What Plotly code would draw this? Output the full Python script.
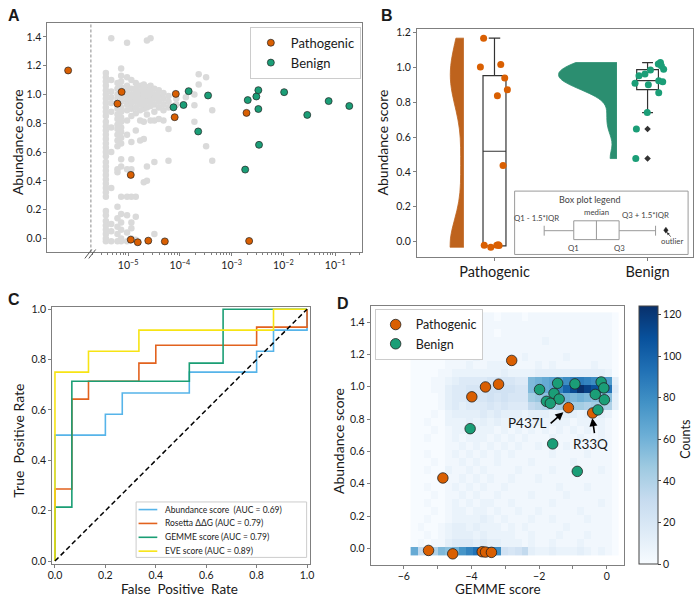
import plotly.graph_objects as go

W, H = 700, 598
FONT = "Lato, 'DejaVu Sans', sans-serif"
TXT = "#1a1a1a"
FRAME = "#7f7f7f"
ORANGE, GREEN = "#d95f02", "#1b9e77"
ORANGE_V, GREEN_V = "#be631d", "#2b8e70"

# ---------------- Panel A data ----------------
PATH_A_X = [6.9e-7, 7.46e-6, 6.2e-6, 8.3e-5, 7.9e-5, 1.93e-3, 1.12e-5, 1.12e-5, 1.53e-5, 2.44e-5, 5.1e-5, 2.17e-3]
PATH_A_Y = [1.167, 1.018, 0.936, 1.004, 0.842, 0.872, 0.441, -0.009, -0.027, -0.016, -0.021, -0.018]
BEN_A_X = [1.47e-4, 3.49e-4, 7.5e-5, 1.17e-4, 2.25e-4, 1.82e-3, 2.04e-3, 2.99e-3, 3.27e-3, 3.27e-3,
           3.37e-3, 1.03e-2, 2.88e-2, 7.46e-2, 0.187]
BEN_A_Y = [1.023, 0.993, 0.911, 0.927, 0.743, 0.478, 0.961, 0.986, 1.03, 0.899, 0.65, 1.016, 0.858, 0.954, 0.92]
BREAK_X = 1.9e-6
BG_COL_X = [3.7e-6, 4.7e-6, 6.2e-6, 7.3e-6, 9.5e-6, 1.15e-5, 1.4e-5, 1.7e-5, 2.0e-5, 2.3e-5, 2.7e-5,
            3.2e-5, 3.9e-5, 4.8e-5, 6.0e-5, 8.5e-5, 1.3e-4, 1.9e-4, 2.3e-4, 3.2e-4, 4.2e-4]
BG_COL_Y = [
    [1.15, 1.12, 1.09, 1.06, 1.03, 1.0, 0.97, 0.94, 0.91, 0.88, 0.85, 0.81, 0.78, 0.75, 0.72, 0.69, 0.66,
     0.63, 0.6, 0.57, 0.53, 0.5, 0.47, 0.44, 0.41, 0.38, 0.35, 0.32, 0.29, 0.19, 0.16, 0.12, 0.09, 0.06,
     0.03, 0.0, -0.02],
    [1.39, 1.1, 1.02, 0.98, 0.94, 0.88, 0.77, 0.6, 0.35, 0.1, 0.05, -0.02],
    [1.08, 1.04, 1.0, 0.97, 0.9, 0.86, 0.83, 0.79, 0.76, 0.72, 0.68, 0.64, 0.48, 0.46, 0.22, 0.14, 0.08,
     0.03, -0.02],
    [1.18, 1.13, 1.09, 1.05, 0.98, 0.95, 0.91, 0.88, 0.84, 0.81, 0.77, 0.74, 0.7, 0.66, 0.55, 0.5, 0.29,
     0.17, 0.11, 0.06, 0.0, -0.02],
    [1.36, 1.12, 1.06, 1.03, 0.99, 0.96, 0.93, 0.89, 0.82, 0.72, 0.48, 0.29, 0.16, 0.04, -0.02],
    [1.1, 1.04, 1.0, 0.97, 0.94, 0.9, 0.85, 0.67, 0.55, 0.48, 0.29, 0.11, 0.07, 0.0],
    [1.08, 1.04, 1.01, 0.98, 0.95, 0.91, 0.87, 0.75, 0.29, 0.15, -0.01],
    [1.06, 1.02, 0.99, 0.96, 0.93, 0.89, 0.82, 0.68],
    [1.07, 1.03, 1.0, 0.97, 0.94, 0.9, 0.81, 0.69, 0.39],
    [1.375, 1.05, 1.01, 0.98, 0.95, 0.91, 0.86, 0.5, 0.4],
    [1.39, 1.06, 1.02, 0.99, 0.96, 0.92, 0.82],
    [1.04, 1.0, 0.97, 0.93, 0.88, 0.82, 0.53, 0.03],
    [1.03, 0.99, 0.95, 0.91, 0.83],
    [1.01, 0.97, 0.93, 0.89, 0.82],
    [0.99, 0.95, 0.91, 0.76, 0.54],
    [0.97, 0.93],
    [0.98],
    [1.0, 0.925, 0.81],
    [1.14, 1.07],
    [1.12, 0.64],
    [0.89, 0.54],
]
A_TICKS = [1e-5, 1e-4, 1e-3, 1e-2, 1e-1]
A_TICKTEXT = ["10<sup>−5</sup>", "10<sup>−4</sup>", "10<sup>−3</sup>", "10<sup>−2</sup>", "10<sup>−1</sup>"]

# ---------------- Panel B data ----------------
CATS = ["Pathogenic", "Benign"]
PATH_B = [1.168, 1.003, 1.017, 0.939, 0.872, 0.838, 0.437, -0.021, -0.032, -0.02, -0.018, -0.022]
PATH_B_JIT = [-0.071, -0.092, 0.041, 0.067, 0.084, 0.019, 0.056, -0.067, -0.024, 0.015, 0.025, 0.03]
BEN_B = [1.028, 1.020, 1.009, 0.990, 0.985, 0.962, 0.952, 0.909, 0.900, 0.924, 0.918, 0.855, 0.741, 0.647, 0.477]
BEN_B_JIT = [0.084, 0.07, 0.09, 0.105, 0.019, -0.017, -0.056, -0.082, 0.005, 0.073, 0.099, 0.073, -0.002, -0.073, -0.077]
BOX_Q1 = [-0.024, 0.873]
BOX_MED = [0.519, 0.924]
BOX_Q3 = [0.953, 0.987]
BOX_LO = [-0.032, 0.741]
BOX_HI = [1.168, 1.028]
BEN_OUTLIERS = [0.647, 0.477]

# ---------------- Panel C data ----------------
ROC_NAMES = ["Abundance score\u00a0 (AUC = 0.69)", "Rosetta ΔΔG (AUC = 0.79)",
             "GEMME score (AUC = 0.79)", "EVE score (AUC = 0.89)"]
ROC_COLORS = ["#56b4e9", "#e2621e", "#1a9e74", "#f7e414"]
FPR_ABUND = [0, 0, 0.2, 0.2, 0.267, 0.267, 0.533, 0.533, 0.8, 0.8, 0.867, 0.867, 1, 1]
TPR_ABUND = [0, 0.5, 0.5, 0.583, 0.583, 0.667, 0.667, 0.75, 0.75, 0.833, 0.833, 0.917, 0.917, 1]
FPR_ROSETTA = [0, 0, 0.067, 0.067, 0.133, 0.133, 0.333, 0.333, 0.4, 0.4, 0.8, 0.8, 1, 1]
TPR_ROSETTA = [0, 0.286, 0.286, 0.643, 0.643, 0.714, 0.714, 0.786, 0.786, 0.857, 0.857, 0.929, 0.929, 1]
FPR_GEMME = [0, 0, 0.067, 0.067, 0.533, 0.533, 0.667, 0.667, 1]
TPR_GEMME = [0, 0.214, 0.214, 0.714, 0.714, 0.786, 0.786, 1, 1]
FPR_EVE = [0, 0, 0.133, 0.133, 0.333, 0.333, 0.867, 0.867, 1]
TPR_EVE = [0, 0.75, 0.75, 0.833, 0.833, 0.917, 0.917, 1, 1]

# ---------------- Panel D data ----------------
PATH_D_X = [-3.587, -3.99, -3.2, -4.846, -5.27, -4.555, -3.683, -3.587, -3.41, -2.811, -1.134, -0.418]
PATH_D_Y = [0.999, 0.938, 1.016, 0.436, -0.012, -0.033, -0.02, -0.022, -0.024, 1.163, 0.871, 0.838]
BEN_D_X = [-1.988, -1.453, -1.561, -1.407, -1.785, -1.669, -0.942, -0.166, -0.087, -0.34, -0.07, -0.262,
           -4.04, -1.6, -0.872]
BEN_D_Y = [0.983, 1.022, 0.959, 0.924, 0.91, 0.898, 1.018, 1.03, 0.993, 0.953, 0.92, 0.857, 0.741, 0.647, 0.477]
LABELS_D = {"P437L": 10, "R33Q": 11}   # index into pathogenic arrays
# 2D histogram counts; each char = level, count = 4 * index in LEVELS. rows bottom->top
LEVELS = "0123456789ABCDEFGHIJKLMNOPQRSTUV"
HX0, HDX, HY0, HDY = -5.8, 0.205, -0.04, 0.05
HM_ROWS = [
    "G89AE DFJLN MNK65 68322 32223 21210",
    "01011 34443 43322 21211 21112 11110",
    "00101 23332 32222 11211 12111 21110",
    "01001 23323 22212 12111 11211 11110",
    "00100 12222 32121 11211 21111 21110",
    "00010 12212 21211 21121 11112 11110",
    "00100 12121 22112 11111 21111 11210",
    "00010 11212 11211 11211 11211 11110",
    "00100 12121 21121 11111 12111 21110",
    "00000 11212 12112 11121 11111 11110",
    "00100 21121 21111 21111 21111 11210",
    "00010 11212 11211 11211 11121 11110",
    "00100 12121 21212 11111 21111 21110",
    "00000 11212 12121 21121 11211 11110",
    "00100 12122 21212 12111 21112 11210",
    "00010 12212 22121 21212 12121 21210",
    "00100 22232 32322 21222 22212 22210",
    "00010 23333 43433 32333 23332 33320",
    "00001 34344 45454 4489A ABBBB ABBA3",
    "00001 34455 56565 55BCD DEFEF EDED3",
    "00011 34455 56666 55EFG HLPSV TRQN4",
    "00011 23444 45555 44EFG HIKLM LKJI3",
    "00001 12222 22232 22233 33333 33320",
    "00000 11121 12221 11121 21111 12110",
    "00000 11112 11111 12111 11211 11110",
    "00000 11111 11111 11111 11111 11110",
    "00000 01111 11111 11112 11111 11110",
    "00000 00101 11011 11111 11111 11110",
    "00000 01011 11111 11111 11111 11110",
    "00000 01010 11011 10111 11111 11110",
]
D_TICKS = [-6, -5, -4, -3, -2, -1, 0]
D_TICKTEXT = ["−6", "", "−4", "", "−2", "", "0"]
CB_TICKS = [0, 20, 40, 60, 80, 100, 120]
BLUES = [[0, "#f7fbff"], [0.125, "#deebf7"], [0.25, "#c6dbef"], [0.375, "#9ecae1"], [0.5, "#6baed6"],
         [0.625, "#4292c6"], [0.75, "#2171b5"], [0.875, "#08519c"], [1, "#08306b"]]


def fx(p):
    return p / W


def fy(p):
    return 1 - p / H


DOM = {"A": ([43, 362], [19, 251]), "B": ([418, 698], [25, 256]),
       "C": ([48, 309], [306, 566]), "D": ([371, 628], [305, 567])}


def xdom(k):
    a, b = DOM[k][0]
    return [fx(a), fx(b)]


def ydom(k):
    a, b = DOM[k][1]
    return [fy(b), fy(a)]


def ax_style(**kw):
    d = dict(showline=True, linecolor=FRAME, linewidth=1, mirror=True, ticks="outside", ticklen=3,
             tickwidth=1, tickcolor=FRAME, showgrid=False, zeroline=False,
             tickfont=dict(size=10.5, color=TXT, family=FONT))
    d.update(kw)
    return d


fig = go.Figure()

# ---------- A ----------
bg_x, bg_y = [], []
for xv, ys in zip(BG_COL_X, BG_COL_Y):
    for yv in ys:
        bg_x.append(xv)
        bg_y.append(yv)
A_YR = [-0.098, 1.498]
fig.add_trace(go.Scatter(x=bg_x, y=bg_y, mode="markers", marker=dict(size=6.5, color="#dadada"),
                         showlegend=False, hoverinfo="skip", xaxis="x", yaxis="y"))
fig.add_trace(go.Scatter(x=[BREAK_X, BREAK_X], y=A_YR, mode="lines",
                         line=dict(color="#8a8a8a", width=1, dash="3px,2px"),
                         showlegend=False, hoverinfo="skip", xaxis="x", yaxis="y"))
fig.add_trace(go.Scatter(x=PATH_A_X, y=PATH_A_Y, mode="markers", name="Pathogenic", legend="legend",
                         marker=dict(size=7, color=ORANGE, line=dict(color="#222", width=0.7)),
                         xaxis="x", yaxis="y"))
fig.add_trace(go.Scatter(x=BEN_A_X, y=BEN_A_Y, mode="markers", name="Benign", legend="legend",
                         marker=dict(size=7, color=GREEN, line=dict(color="#222", width=0.7)),
                         xaxis="x", yaxis="y"))

# ---------- B ----------
VOFF = -0.2
fig.add_trace(go.Violin(y=PATH_B, x0=0 + VOFF, side="negative", width=0.18, spanmode="hard",
                        bandwidth=0.16, fillcolor=ORANGE_V, line=dict(color=ORANGE_V, width=0.8),
                        points=False, box_visible=False, meanline_visible=False, opacity=1,
                        showlegend=False, hoverinfo="skip", xaxis="x2", yaxis="y2"))
fig.add_trace(go.Violin(y=BEN_B, x0=1 + VOFF, side="negative", width=0.76, spanmode="hard",
                        bandwidth=0.06, fillcolor=GREEN_V, line=dict(color=GREEN_V, width=0.8),
                        points=False, box_visible=False, meanline_visible=False, opacity=1,
                        showlegend=False, hoverinfo="skip", xaxis="x2", yaxis="y2"))
for i, wd in enumerate([0.15, 0.142]):
    fig.add_trace(go.Box(x=[i], q1=[BOX_Q1[i]], median=[BOX_MED[i]], q3=[BOX_Q3[i]],
                         lowerfence=[BOX_LO[i]], upperfence=[BOX_HI[i]], width=wd,
                         fillcolor="white", line=dict(color="#333", width=1.2), boxpoints=False,
                         showlegend=False, hoverinfo="skip", xaxis="x2", yaxis="y2"))
fig.add_trace(go.Scatter(x=[0 + j for j in PATH_B_JIT], y=PATH_B, mode="markers",
                         marker=dict(size=7, color=ORANGE), showlegend=False, hoverinfo="skip",
                         xaxis="x2", yaxis="y2"))
fig.add_trace(go.Scatter(x=[1 + j for j in BEN_B_JIT], y=BEN_B, mode="markers",
                         marker=dict(size=7, color=GREEN), showlegend=False, hoverinfo="skip",
                         xaxis="x2", yaxis="y2"))
fig.add_trace(go.Scatter(x=[1] * len(BEN_OUTLIERS), y=BEN_OUTLIERS, mode="markers",
                         marker=dict(size=5, color="#333", symbol="diamond"), showlegend=False,
                         hoverinfo="skip", xaxis="x2", yaxis="y2"))

# ---------- C ----------
for name, col, fp, tp in zip(ROC_NAMES, ROC_COLORS,
                             [FPR_ABUND, FPR_ROSETTA, FPR_GEMME, FPR_EVE],
                             [TPR_ABUND, TPR_ROSETTA, TPR_GEMME, TPR_EVE]):
    fig.add_trace(go.Scatter(x=fp, y=tp, mode="lines", name=name, showlegend=False,
                             line=dict(color=col, width=1.6), xaxis="x3", yaxis="y3"))
fig.add_trace(go.Scatter(x=[0, 1], y=[0, 1], mode="lines", line=dict(color="black", width=1.5, dash="5px,3px"),
                         showlegend=False, hoverinfo="skip", xaxis="x3", yaxis="y3"))

# ---------- D ----------
z = [[4 * LEVELS.index(c) for c in row.replace(" ", "")] for row in HM_ROWS]
hx = [HX0 + HDX * (i + 0.5) for i in range(len(z[0]))]
hy = [HY0 + HDY * (j + 0.5) for j in range(len(z))]
fig.add_trace(go.Heatmap(x=hx, y=hy, z=z, colorscale=BLUES, zmin=0, zmax=124, xaxis="x4", yaxis="y4",
                         hoverinfo="skip",
                         colorbar=dict(x=fx(643), xanchor="left", thickness=19, thicknessmode="pixels",
                                       len=(566 - 305) / H, lenmode="fraction", y=fy((305 + 566) / 2),
                                       yanchor="middle", xpad=0, ypad=0, outlinewidth=1,
                                       outlinecolor="#444", tickvals=CB_TICKS, ticks="outside",
                                       ticklen=3, tickcolor="#444",
                                       tickfont=dict(size=10.5, color=TXT, family=FONT))))
fig.add_trace(go.Scatter(x=PATH_D_X, y=PATH_D_Y, mode="markers", name="Pathogenic", legend="legend3",
                         marker=dict(size=10.5, color=ORANGE, line=dict(color="#222", width=0.8)),
                         xaxis="x4", yaxis="y4"))
fig.add_trace(go.Scatter(x=BEN_D_X, y=BEN_D_Y, mode="markers", name="Benign", legend="legend3",
                         marker=dict(size=10.5, color=GREEN, line=dict(color="#222", width=0.8)),
                         xaxis="x4", yaxis="y4"))

# ---------- annotations ----------
ann = []
shapes = []


def text(x, y, s, size, angle=0, bold=False, color=TXT, family=FONT, xa="center", ya="middle"):
    ann.append(dict(x=fx(x), y=fy(y), xref="paper", yref="paper", text=("<b>%s</b>" % s) if bold else s,
                    showarrow=False, textangle=angle, xanchor=xa, yanchor=ya, borderpad=0,
                    font=dict(size=size, color=color, family=family)))


def pline(x0, y0, x1, y1, color="#999", width=1.0):
    shapes.append(dict(type="line", xref="paper", yref="paper", x0=fx(x0), y0=fy(y0), x1=fx(x1),
                       y1=fy(y1), line=dict(color=color, width=width)))


LETTER_FONT = "'Liberation Sans', Arial, sans-serif"
text(9, 12, "A", 16, bold=True, family=LETTER_FONT)
text(387.5, 11.5, "B", 16, bold=True, family=LETTER_FONT)
text(9, 298.5, "C", 16, bold=True, family=LETTER_FONT)
text(343, 303, "D", 16, bold=True, family=LETTER_FONT)
text(12.7, 140, "Abundance score", 14, angle=-90)
text(383.3, 140, "Abundance score", 14, angle=-90)
text(13.3, 441, "True\u00a0 Positive Rate", 14, angle=-90)
text(338.3, 441, "Abundance score", 14, angle=-90)
text(177, 591, "False\u00a0 Positive\u00a0 Rate", 13.5)
text(500, 591, "GEMME score", 13.5)
text(690, 440, "Counts", 12.5, angle=-90)

# ROC legend (C)
shapes.append(dict(type="rect", xref="paper", yref="paper", x0=fx(133), x1=fx(306), y0=fy(559), y1=fy(503),
                   line=dict(color="#cccccc", width=1), fillcolor="white", layer="above"))
for k, (name, col) in enumerate(zip(ROC_NAMES, ROC_COLORS)):
    yy = 510.7 + k * 14
    pline(135.5, yy, 154.5, yy, color=col, width=1.6)
    text(161, yy, name, 8.5, xa="left")

# box plot legend inset (B)
GR = "#444"
shapes.append(dict(type="rect", xref="paper", yref="paper", x0=fx(517), x1=fx(693), y0=fy(253), y1=fy(189),
                   line=dict(color="#9a9a9a", width=1), fillcolor="white", layer="above"))
text(593, 197, "Box plot legend", 9, color=GR)
text(539.5, 216, "Q1 - 1.5*IQR", 7.8, color=GR)
text(600, 210.5, "median", 7.8, color=GR)
text(650, 213.5, "Q3 + 1.5*IQR", 7.8, color=GR)
text(577, 246.5, "Q1", 7.8, color=GR)
text(623, 246.5, "Q3", 7.8, color=GR)
text(677, 239.5, "outlier", 7.8, color=GR)
ann.append(dict(x=fx(671.5), y=fy(230.5), xref="paper", yref="paper", ax=5, ay=6, text="",
                showarrow=True, arrowhead=2, arrowsize=0.7, arrowwidth=0.8, arrowcolor="#333"))
pline(547, 229, 577, 229)
pline(547, 224, 547, 234)
shapes.append(dict(type="rect", xref="paper", yref="paper", x0=fx(577), x1=fx(623), y0=fy(238), y1=fy(219),
                   line=dict(color="#999", width=1), fillcolor="white"))
pline(600, 219, 600, 238)
pline(623, 229, 660, 229)
pline(660, 224, 660, 234)
cx, cy = 670.5, 228.5
shapes.append(dict(type="path", xref="paper", yref="paper",
                   path="M %f,%f L %f,%f L %f,%f L %f,%f Z" % (fx(cx), fy(cy - 3), fx(cx + 2.2), fy(cy),
                                                           fx(cx), fy(cy + 3), fx(cx - 2.2), fy(cy)),
                   fillcolor="#222", line=dict(color="#222", width=0.5)))

# axis break marks in A
pline(81, 257, 88, 248, color="#555")
pline(85, 257, 92, 248, color="#555")

# D labels with arrows
for lab, idx in LABELS_D.items():
    px_, py_ = PATH_D_X[idx], PATH_D_Y[idx]
    if lab == "P437L":
        head, tail, tpos = (px_ - 0.15, py_ - 0.028), (px_ - 0.57, py_ - 0.106), (px_ - 1.22, py_ - 0.096)
    else:
        head, tail, tpos = (px_ - 0.01, py_ - 0.032), (px_ + 0.06, py_ - 0.134), (px_ - 0.07, py_ - 0.189)
    ann.append(dict(x=head[0], y=head[1], ax=tail[0], ay=tail[1], xref="x4", yref="y4", axref="x4",
                    ayref="y4", text="", showarrow=True, arrowhead=2, arrowsize=1, arrowwidth=1.6,
                    arrowcolor="black"))
    ann.append(dict(x=tpos[0], y=tpos[1], xref="x4", yref="y4", text=lab, showarrow=False,
                    font=dict(size=13.5, color=TXT, family=FONT)))

# ---------- layout ----------
minor_a = [k * 10.0 ** e for e in range(-6, 0) for k in range(2, 10)]
fig.update_layout(
    width=W, height=H, margin=dict(l=0, r=0, t=0, b=0),
    paper_bgcolor="white", plot_bgcolor="white",
    font=dict(family=FONT, color=TXT),
    violinmode="overlay", boxmode="overlay",
    xaxis=ax_style(domain=xdom("A"), anchor="y", type="log", range=[-6.562, -0.486], tickvals=A_TICKS,
                   ticktext=A_TICKTEXT,
                   minor=dict(tickvals=minor_a, ticks="outside", ticklen=2, tickcolor=FRAME)),
    yaxis=ax_style(domain=ydom("A"), anchor="x", range=A_YR, tickvals=[0, 0.2, 0.4, 0.6, 0.8, 1.0, 1.2, 1.4],
                   tickformat=".1f"),
    xaxis2=ax_style(domain=xdom("B"), anchor="y2", range=[-0.506, 1.297], tickvals=[0, 1], ticktext=CATS,
                    tickfont=dict(size=14.5, color=TXT, family=FONT), ticklabelstandoff=-2),
    yaxis2=ax_style(domain=ydom("B"), anchor="x2", range=[-0.0906, 1.222],
                    tickvals=[0, 0.2, 0.4, 0.6, 0.8, 1.0, 1.2], tickformat=".1f"),
    xaxis3=ax_style(domain=xdom("C"), anchor="y3", range=[-0.0105, 1.0101],
                    tickvals=[0, 0.2, 0.4, 0.6, 0.8, 1.0], tickformat=".1f", ticklabelstandoff=-2),
    yaxis3=ax_style(domain=ydom("C"), anchor="x3", range=[-0.013, 1.009],
                    tickvals=[0, 0.2, 0.4, 0.6, 0.8, 1.0], tickformat=".1f"),
    xaxis4=ax_style(domain=xdom("D"), anchor="y4", range=[-6.98, 0.51], tickvals=D_TICKS, ticktext=D_TICKTEXT,
                    ticklabelstandoff=-2),
    yaxis4=ax_style(domain=ydom("D"), anchor="x4", range=[-0.104, 1.5],
                    tickvals=[0, 0.2, 0.4, 0.6, 0.8, 1.0, 1.2, 1.4], tickformat=".1f"),
    legend=dict(x=fx(361), xanchor="right", y=fy(23), yanchor="top", bgcolor="white", bordercolor="#cccccc",
                borderwidth=1, font=dict(size=13, color=TXT, family=FONT)),
    legend3=dict(x=fx(375), xanchor="left", y=fy(308), yanchor="top", bgcolor="white", bordercolor="#cccccc",
                 borderwidth=1, font=dict(size=12.5, color=TXT, family=FONT)),
    annotations=ann, shapes=shapes,
)

fig.write_html("out.html", config={"displayModeBar": False, "staticPlot": True},
               post_script="document.body.style.margin='0px';document.body.style.padding='0px';"
                           "document.body.style.overflow='hidden';")
